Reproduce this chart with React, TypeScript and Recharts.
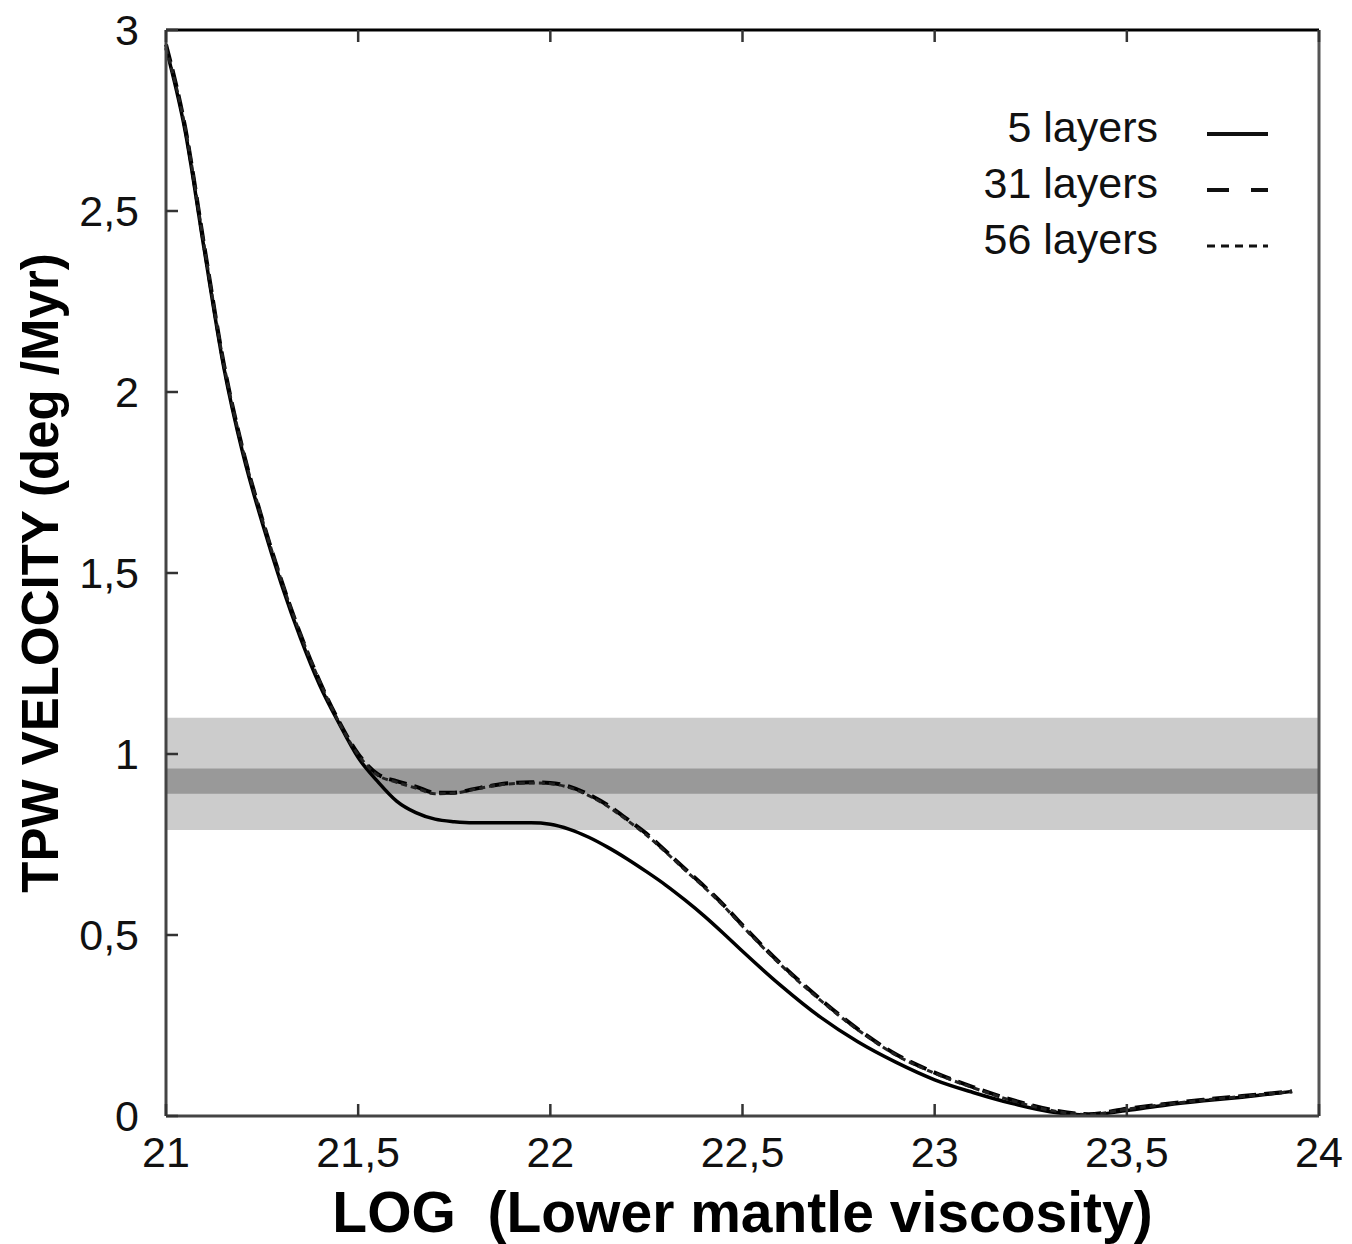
import React from "react";
import {
  LineChart,
  Line,
  XAxis,
  YAxis,
  ReferenceArea,
  Legend,
} from "recharts";

// log10 of lower mantle viscosity
const viscosity = [
  21.0, 21.05, 21.1, 21.15, 21.2, 21.25, 21.3, 21.35, 21.4, 21.45, 21.5,
  21.55, 21.6, 21.65, 21.7, 21.75, 21.8, 21.85, 21.9, 21.95, 22.0, 22.05,
  22.1, 22.15, 22.2, 22.25, 22.3, 22.35, 22.4, 22.45, 22.5, 22.6, 22.7, 22.8,
  22.9, 23.0, 23.1, 23.2, 23.3, 23.4, 23.5, 23.6, 23.7, 23.8, 23.93,
];

// TPW velocity (deg/Myr)
const layers5 = [
  2.95, 2.72, 2.39, 2.07, 1.83, 1.64, 1.47, 1.32, 1.19, 1.085, 0.99, 0.925,
  0.87, 0.838, 0.82, 0.813, 0.81, 0.81, 0.81, 0.81, 0.806, 0.792, 0.77, 0.742,
  0.71, 0.675, 0.638, 0.597, 0.553, 0.505, 0.455, 0.36, 0.275, 0.205, 0.148,
  0.1, 0.065, 0.035, 0.012, 0.003, 0.015, 0.03, 0.042, 0.052, 0.068,
];

const layers31 = [
  2.96, 2.73, 2.4, 2.08, 1.84, 1.65, 1.48, 1.33, 1.2, 1.09, 1.0, 0.945,
  0.925, 0.91, 0.893, 0.893, 0.903, 0.913, 0.92, 0.922, 0.92, 0.91, 0.888,
  0.858, 0.82, 0.78, 0.732, 0.683, 0.635, 0.584, 0.527, 0.42, 0.325, 0.24, 0.17,
  0.12, 0.08, 0.045, 0.018, 0.005, 0.02, 0.033, 0.045, 0.055, 0.068,
];

const layers56 = [
  2.95, 2.73, 2.4, 2.08, 1.84, 1.65, 1.48, 1.33, 1.2, 1.088, 0.998, 0.942,
  0.922, 0.906, 0.89, 0.892, 0.902, 0.912, 0.918, 0.92, 0.918, 0.907, 0.885,
  0.855, 0.817, 0.776, 0.729, 0.68, 0.632, 0.581, 0.524, 0.417, 0.322,
  0.238, 0.168, 0.118, 0.078, 0.043, 0.016, 0.004, 0.019, 0.032, 0.044,
  0.054, 0.068,
];

const xTicks = [21, 21.5, 22, 22.5, 23, 23.5, 24];
const yTicks = [0, 0.5, 1, 1.5, 2, 2.5, 3];

const legendItems = [
  { name: "5 layers", dash: "" },
  { name: "31 layers", dash: "22 22" },
  { name: "56 layers", dash: "8 6" },
];

const data = viscosity.map((v, i) => ({
  x: v,
  l5: layers5[i],
  l31: layers31[i],
  l56: layers56[i],
}));

const FONT = "'Liberation Sans', Arial, sans-serif";
const TICK = 12;
const fmt = (v: number) => String(v).replace(".", ",");

function BottomTick({ x, y, payload }: any) {
  return (
    <g>
      <line x1={x} x2={x} y1={y} y2={y - TICK} stroke="#333" strokeWidth={2.5} />
      <text x={x} y={y + 51} textAnchor="middle" fontSize={43} fontFamily={FONT} fill="#111">
        {fmt(payload.value)}
      </text>
    </g>
  );
}

function TopTick({ x, y }: any) {
  return <line x1={x} x2={x} y1={y} y2={y + TICK} stroke="#333" strokeWidth={2.5} />;
}

function LeftTick({ x, y, payload }: any) {
  return (
    <g>
      <line x1={x} x2={x + TICK} y1={y} y2={y} stroke="#333" strokeWidth={2.5} />
      <text x={x - 27} y={y + 15} textAnchor="end" fontSize={43} fontFamily={FONT} fill="#111">
        {fmt(payload.value)}
      </text>
    </g>
  );
}

function RightTick({ x, y }: any) {
  return <line x1={x} x2={x - TICK} y1={y} y2={y} stroke="#333" strokeWidth={2.5} />;
}

function LegendBox() {
  return (
    <svg width={330} height={180}>
      {legendItems.map((item, i) => (
        <g key={item.name}>
          <text
            x={198}
            y={42 + i * 56}
            textAnchor="end"
            fontSize={43}
            fontFamily={FONT}
            fill="#111"
          >
            {item.name}
          </text>
          <line
            x1={247}
            x2={308}
            y1={34 + i * 56}
            y2={34 + i * 56}
            stroke="#111"
            strokeWidth={i === 2 ? 3 : 4}
            strokeDasharray={item.dash || undefined}
          />
        </g>
      ))}
    </svg>
  );
}

export default function App() {
  return (
    <div style={{ position: "absolute", left: 0, top: 0, width: 1352, height: 1244, background: "#fff" }}>
      <LineChart
        width={1352}
        height={1244}
        data={data}
        margin={{ top: 20, right: 23, left: 66, bottom: 68 }}
      >
        <ReferenceArea y1={0.79} y2={1.1} fill="#cccccc" fillOpacity={1} stroke="none" />
        <ReferenceArea y1={0.89} y2={0.96} fill="#999999" fillOpacity={1} stroke="none" />
        <XAxis
          dataKey="x"
          type="number"
          domain={[21, 24]}
          ticks={xTicks}
          height={60}
          tickSize={0}
          tickMargin={0}
          tickLine={false}
          axisLine={{ stroke: "#444", strokeWidth: 3 }}
          tick={<BottomTick />}
          interval={0}
          label={{
            content: ({ viewBox }: any) => (
              <text
                x={viewBox.x + viewBox.width / 2}
                y={viewBox.y + 116}
                textAnchor="middle"
                fontSize={57}
                fontWeight="bold"
                fontFamily={FONT}
                fill="#000"
                style={{ whiteSpace: "pre" }}
              >
                {"LOG  (Lower mantle viscosity)"}
              </text>
            ),
          }}
        />
        <XAxis
          xAxisId="top"
          orientation="top"
          dataKey="x"
          type="number"
          domain={[21, 24]}
          ticks={xTicks}
          height={10}
          tickSize={0}
          tickMargin={0}
          tickLine={false}
          axisLine={{ stroke: "#000", strokeWidth: 3 }}
          tick={<TopTick />}
          interval={0}
        />
        <YAxis
          type="number"
          domain={[0, 3]}
          ticks={yTicks}
          width={100}
          tickSize={0}
          tickMargin={0}
          tickLine={false}
          axisLine={{ stroke: "#444", strokeWidth: 3 }}
          tick={<LeftTick />}
          interval={0}
          label={{
            content: ({ viewBox }: any) => {
              const cx = viewBox.x - 8;
              const cy = viewBox.y + viewBox.height / 2;
              return (
                <text
                  x={cx}
                  y={cy}
                  transform={`rotate(-90 ${cx} ${cy})`}
                  textAnchor="middle"
                  fontSize={51}
                  fontWeight="bold"
                  fontFamily={FONT}
                  fill="#000"
                >
                  TPW VELOCITY (deg /Myr)
                </text>
              );
            },
          }}
        />
        <YAxis
          yAxisId="right"
          orientation="right"
          type="number"
          domain={[0, 3]}
          ticks={yTicks}
          width={10}
          tickSize={0}
          tickMargin={0}
          tickLine={false}
          axisLine={{ stroke: "#555", strokeWidth: 3 }}
          tick={<RightTick />}
          interval={0}
        />
        <Legend
          layout="horizontal"
          verticalAlign="middle"
          align="center"
          content={<LegendBox />}
          wrapperStyle={{ position: "absolute", left: 960, top: 100, width: 330 }}
        />
        <Line
          dataKey="l5"
          name="5 layers"
          type="monotone"
          stroke="#000"
          strokeWidth={3.5}
          dot={false}
          isAnimationActive={false}
        />
        <Line
          dataKey="l31"
          name="31 layers"
          type="monotone"
          stroke="#000"
          strokeWidth={4}
          strokeDasharray="18 8"
          dot={false}
          isAnimationActive={false}
        />
        <Line
          dataKey="l56"
          name="56 layers"
          type="monotone"
          stroke="#222"
          strokeWidth={3}
          strokeDasharray="6 4"
          dot={false}
          isAnimationActive={false}
        />
      </LineChart>
    </div>
  );
}
